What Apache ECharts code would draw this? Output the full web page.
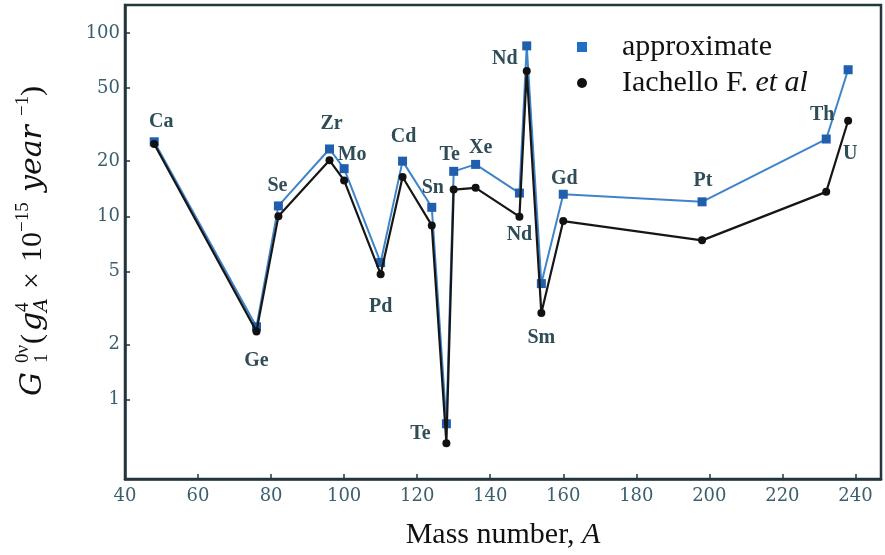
<!DOCTYPE html>
<html>
<head>
<meta charset="utf-8">
<script src="https://cdn.jsdelivr.net/npm/echarts@6/dist/echarts.min.js"></script>
<style>
  html, body { margin: 0; padding: 0; background: #fff; }
  #chart { width: 885px; height: 555px; }
</style>
</head>
<body>
<div id="chart"></div>
<script>
// Phase-space factor G1(0v) vs mass number
const chart = echarts.init(document.getElementById('chart'));

const massNumbers = [48, 76, 82, 96, 100, 110, 116, 124, 128, 130, 136, 148, 150, 154, 160, 198, 232, 238];
const elements = ['Ca', 'Ge', 'Se', 'Zr', 'Mo', 'Pd', 'Cd', 'Sn', 'Te', 'Te', 'Xe', 'Nd', 'Nd', 'Sm', 'Gd', 'Pt', 'Th', 'U'];
const approxValues = [25.5, 2.5, 11.4, 23.3, 18.2, 5.6, 20.0, 11.2, 0.74, 17.6, 19.2, 13.4, 85, 4.3, 13.2, 12.0, 26.4, 63];
const iachelloValues = [24.8, 2.36, 10.0, 20.2, 15.7, 4.84, 16.4, 8.93, 0.58, 14.0, 14.3, 9.96, 62, 2.97, 9.43, 7.4, 13.6, 33.2];
const xTicks = [40, 60, 80, 100, 120, 140, 160, 180, 200, 220, 240];
const yTicks = [1, 2, 5, 10, 20, 50, 100];

// label placement around the blue markers (px)
const labelOffsets = [
  [7, -20], [0, 34], [-1, -20], [2, -25], [8, -14], [0, 44], [1, -24], [1, -20], [-26, 10],
  [-4, -17], [5, -17], [0, 42], [-22, 13], [0, 54], [1, -15], [1, -21], [-4, -24], [2, 84]
];

const AXIS = '#22363c';
const TICK_TXT = '#3b5f6e';
const LBL_TXT = '#2f4d57';
const serif = '"Liberation Serif", "Times New Roman", serif';
const dvSerif = '"DejaVu Serif", serif';

const approxData = massNumbers.map((a, i) => ({
  value: [a, approxValues[i]],
  label: {
    show: true,
    position: 'inside',
    offset: labelOffsets[i],
    formatter: elements[i]
  }
}));
const iachelloData = massNumbers.map((a, i) => [a, iachelloValues[i]]);

// y title pieces, laid along the rotated baseline
const titleMain = 30, titleSmall = 19;
function piece(text, s, off, size, italic) {
  return {
    type: 'text',
    x: s, y: off,
    style: {
      text: text,
      font: (italic ? 'italic ' : '') + size + 'px ' + (italic ? dvSerif : serif),
      fill: '#111',
      textAlign: 'left',
      textVerticalAlign: 'middle'
    }
  };
}

chart.setOption({
  animation: false,
  backgroundColor: '#fff',
  grid: {
    left: 125, right: 4, top: 5, bottom: 75,
    show: true, borderColor: AXIS, borderWidth: 2.5, backgroundColor: 'transparent'
  },
  legend: {
    orient: 'vertical',
    left: 572, top: 27,
    itemWidth: 70, itemHeight: 10, itemGap: 6,
    data: [
      { name: 'approximate', icon: 'path://M0,0H10V10H0Z', itemStyle: { color: '#1f6fc4' } },
      { name: 'Iachello F. et al', icon: 'circle', itemStyle: { color: '#111' } }
    ],
    formatter: function (name) {
      return name === 'Iachello F. et al' ? 'Iachello F. {i|et al}' : name;
    },
    textStyle: {
      fontFamily: serif, fontSize: 30, color: '#111', lineHeight: 30,
      rich: { i: { fontFamily: serif, fontSize: 30, fontStyle: 'italic', color: '#111' } }
    }
  },
  xAxis: {
    type: 'value',
    min: 40, max: 247, interval: 20,
    name: 'Mass number, {i|A}',
    nameLocation: 'middle',
    nameGap: 41,
    nameTextStyle: {
      fontFamily: serif, fontSize: 30, color: '#111',
      rich: { i: { fontFamily: serif, fontSize: 30, fontStyle: 'italic', color: '#111' } }
    },
    axisLine: { show: true, onZero: false, lineStyle: { color: AXIS, width: 2.5 } },
    axisTick: { show: true, inside: true, length: 5, customValues: xTicks, lineStyle: { color: AXIS, width: 1.5 } },
    axisLabel: { customValues: xTicks, fontFamily: dvSerif, fontSize: 18, color: TICK_TXT, margin: 8 },
    splitLine: { show: false }
  },
  yAxis: {
    type: 'log',
    logBase: 10,
    min: 0.37, max: 142,
    axisLine: { show: true, lineStyle: { color: AXIS, width: 2.5 } },
    axisTick: { show: true, inside: true, length: 5, customValues: yTicks, lineStyle: { color: AXIS, width: 1.5 } },
    axisLabel: { customValues: yTicks, fontFamily: dvSerif, fontSize: 18, color: TICK_TXT, margin: 5 },
    minorTick: { show: false },
    splitLine: { show: false }
  },
  series: [
    {
      name: 'approximate',
      type: 'line',
      data: approxData,
      symbol: 'rect',
      symbolSize: 9,
      itemStyle: { color: '#1f5fae' },
      lineStyle: { color: '#3f84c9', width: 2 },
      label: { fontFamily: serif, fontSize: 20, fontWeight: 'bold', color: LBL_TXT, align: 'center', verticalAlign: 'middle' },
      z: 2
    },
    {
      name: 'Iachello F. et al',
      type: 'line',
      data: iachelloData,
      symbol: 'circle',
      symbolSize: 8,
      itemStyle: { color: '#111' },
      lineStyle: { color: '#161616', width: 2.2 },
      z: 3
    }
  ],
  graphic: [{
    type: 'group',
    x: 33, y: 396,
    rotation: Math.PI / 2,
    children: [
      piece('G', 0, 0, titleMain, true),
      piece('0ν', 33, -10, titleSmall, false),
      piece('1', 33, 9, titleSmall, false),
      piece('(', 52, 0, titleMain, false),
      piece('g', 65, 0, titleMain, true),
      piece('4', 84, -10, titleSmall, false),
      piece('A', 84, 9, titleSmall, true),
      piece('×', 107, 0, titleMain, false),
      piece('10', 134, 0, titleMain, false),
      piece('−15', 164, -10, titleSmall, false),
      piece('year', 204, 0, titleMain, true),
      piece('−1', 280, -10, titleSmall, false),
      piece(')', 300, 0, titleMain, false)
    ]
  }]
});
</script>
</body>
</html>
